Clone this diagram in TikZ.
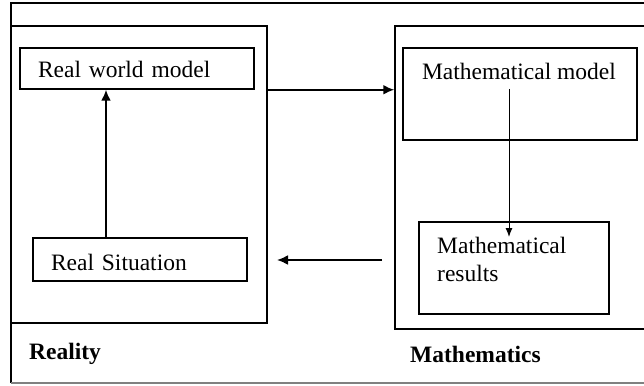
\documentclass[tikz,border=0pt]{standalone}
\usepackage{fontspec}
\setmainfont{Liberation Serif}
\usetikzlibrary{arrows.meta}
\begin{document}
\begin{tikzpicture}[x=1pt,y=-1pt,
  frame/.style={line width=2pt},
  box/.style={draw,line width=1.5pt,inner sep=0pt},
  txtbox/.style={box,inner xsep=18pt,inner ysep=0pt,align=left,font=\fontsize{23.5}{28}\selectfont},
  lbl/.style={font=\fontsize{23.5}{28}\selectfont,inner sep=0pt},
  heavy/.style={line width=2pt,-{Latex[length=11pt,width=10pt]}},
  light/.style={line width=1pt,-{Latex[length=9pt,width=7pt]}}]
\useasboundingbox (0,0) rectangle (644,385);
% outer frame
\draw[line width=1.2pt] (11,383) -- (11,3) -- (650,3);
\draw[line width=1.2pt,gray] (11,383) -- (650,383);
% Reality box
\node[draw,frame,minimum width=256pt,minimum height=297pt,inner sep=0pt] (realitybox) at (139,174.5) {};
% Mathematics box (extends beyond right edge)
\node[draw,line width=1.5pt,minimum width=305pt,minimum height=303pt,inner sep=0pt] (mathbox) at (547.5,177.5) {};
% inner boxes
\node[txtbox,text width=198pt,text height=20pt,text depth=2pt,minimum height=41pt] (rwm) at (137,68.5) {Real world model};
\node[txtbox,text width=178pt,text height=22pt,text depth=1pt,minimum height=43pt] (rs) at (140,259.5) {Real Situation};
\node[box,minimum width=234pt,minimum height=92pt] (mm) at (520,94) {};
\node[lbl] (mmtext) at (519,71) {Mathematical model};
\node[box,minimum width=190pt,minimum height=92pt] (mr) at (514,268) {};
\node[lbl,align=left,anchor=north west] (mrtext) at (437,237) {Mathematical\\results};
% labels
\node[lbl,anchor=west,font=\fontsize{23.5}{28}\selectfont\bfseries] (reality) at (29,354) {Reality};
\node[lbl,anchor=west,font=\fontsize{23.5}{28}\selectfont\bfseries] (mathematics) at (410,354) {Mathematics};
% connectors
\draw[heavy] (rs.north -| 106,0) -- (rwm.south -| 106,0);
\draw[heavy] (realitybox.east |- rwm.south) -- (mathbox.west |- rwm.south);
\coordinate (mmstart) at (509,89);
\coordinate (mrend) at (509,237);
\draw[light] (mmstart) -- (mrend);
\coordinate (backstart) at (382,260);
\coordinate (backend) at (277,260);
\draw[heavy] (backstart) -- (backend);
\end{tikzpicture}
\end{document}
